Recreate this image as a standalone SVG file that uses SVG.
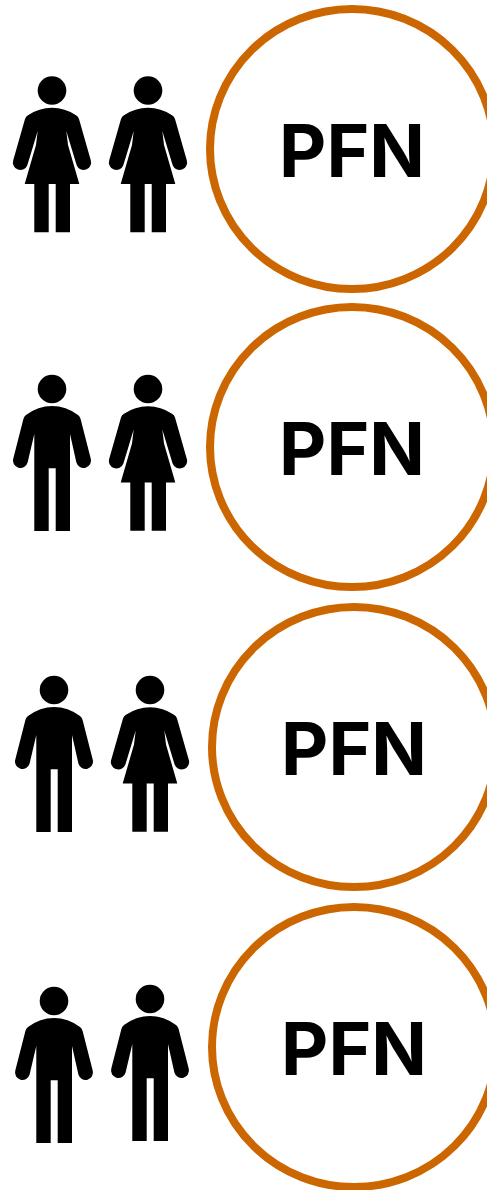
<svg xmlns="http://www.w3.org/2000/svg" width="487" height="1190" viewBox="0 0 487 1190">
<style>
.ring{fill:#fff;stroke:#c60;stroke-width:8}
.lbl{font-family:"Inter","Liberation Sans",Arial,sans-serif;font-weight:700;font-size:73px;fill:#000;text-anchor:middle}
</style>
<defs>
<g id="female">
<circle cx="0" cy="0" r="14.3"/>
<path d="M-24 24.7Q-13 17.2 0 17.2Q13 17.2 24 24.7Q26.2 26 27 28.5L38.7 69.5A7.4 7.4 0 0 1 24.6 74.5L14.3 40.5L16 54.5L27.3 93.5H18V141.8H3.7V93.5H-3.3V141.8H-17.7V93.5H-27.3L-16 54.5L-14.3 40.5L-24.6 74.5A7.4 7.4 0 0 1 -38.7 69.5L-27 28.5Q-26.2 26 -24 24.7Z"/>
</g>
<g id="male">
<circle cx="0" cy="0" r="14.3"/>
<path d="M-26 26Q-14 17 0 17Q14 17 26 26Q28 27.5 28.6 30L38.7 69.5A7.4 7.4 0 0 1 24.4 73.5L18 45V142H3.7V79.3H-3.3V142H-17.7V45L-24.4 73.5A7.4 7.4 0 0 1 -38.7 69.5L-28.6 30Q-28 27.5 -26 26Z"/>
</g>
</defs>
<g id="connectors"/>
<g id="row1">
<g id="person-1a"><use href="#female" x="52" y="90.5"/></g>
<g id="person-1b"><use href="#female" x="148" y="90.5"/></g>
<g id="pfn-1"><ellipse class="ring" cx="352" cy="149" rx="142" ry="140"/><text class="lbl" x="352" y="177.3">PFN</text></g>
</g>
<g id="row2">
<g id="person-2a"><use href="#male" x="52" y="389"/></g>
<g id="person-2b"><use href="#female" x="148" y="389"/></g>
<g id="pfn-2"><ellipse class="ring" cx="352" cy="447" rx="142" ry="140"/><text class="lbl" x="352" y="475.3">PFN</text></g>
</g>
<g id="row3">
<g id="person-3a"><use href="#male" x="54" y="690"/></g>
<g id="person-3b"><use href="#female" x="150" y="690"/></g>
<g id="pfn-3"><ellipse class="ring" cx="354" cy="747" rx="142" ry="140"/><text class="lbl" x="354" y="775.3">PFN</text></g>
</g>
<g id="row4">
<g id="person-4a"><use href="#male" x="54" y="1001"/></g>
<g id="person-4b"><use href="#male" x="150" y="999"/></g>
<g id="pfn-4"><ellipse class="ring" cx="354" cy="1047" rx="142" ry="140"/><text class="lbl" x="354" y="1074.6">PFN</text></g>
</g>
</svg>
